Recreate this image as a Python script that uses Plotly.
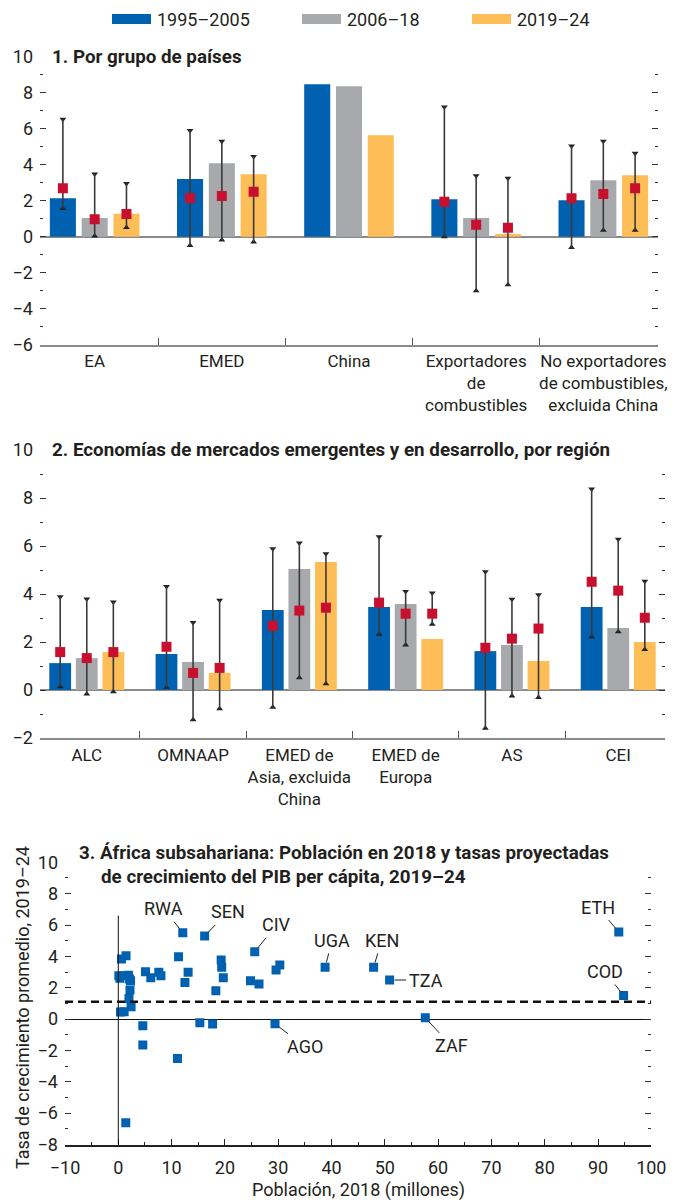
import plotly.graph_objects as go

# The page body adds an 8px margin; the figure is sized to fit the window after it.
OFF = 8
W, H = 679 - OFF, 1203 - OFF

# ---------------- data ----------------
series_names = ["1995–2005", "2006–18", "2019–24"]
series_colors = ["#0061B0", "#A7A9AC", "#FDBD57"]

groups1 = ["EA", "EMED", "China", "Exportadores<br>de<br>combustibles",
           "No exportadores<br>de combustibles,<br>excluida China"]
bars1_a = [2.14, 3.20, 8.46, 2.09, 2.03]
bars1_b = [1.04, 4.08, 8.35, 1.04, 3.14]
bars1_c = [1.28, 3.47, 5.63, 0.15, 3.42]
med1_a = [2.70, 2.15, None, 1.94, 2.14]
med1_b = [0.98, 2.27, None, 0.67, 2.38]
med1_c = [1.26, 2.50, None, 0.50, 2.70]
hi1_a = [6.52, 5.90, None, 7.20, 5.03]
hi1_b = [3.49, 5.30, None, 3.38, 5.30]
hi1_c = [2.95, 4.45, None, 3.25, 4.64]
lo1_a = [1.57, -0.48, None, 0.00, -0.59]
lo1_b = [0.04, -0.18, None, -2.99, 0.37]
lo1_c = [0.52, -0.29, None, -2.66, 0.37]

groups2 = ["ALC", "OMNAAP", "EMED de<br>Asia, excluida<br>China", "EMED de<br>Europa", "AS", "CEI"]
bars2_a = [1.12, 1.50, 3.33, 3.46, 1.62, 3.46]
bars2_b = [1.33, 1.17, 5.04, 3.58, 1.87, 2.58]
bars2_c = [1.58, 0.71, 5.33, 2.12, 1.21, 2.00]
med2_a = [1.58, 1.80, 2.67, 3.64, 1.76, 4.51]
med2_b = [1.33, 0.71, 3.31, 3.18, 2.14, 4.14]
med2_c = [1.58, 0.92, 3.43, 3.18, 2.56, 3.01]
hi2_a = [3.89, 4.31, 5.89, 6.39, 4.93, 8.37]
hi2_b = [3.79, 2.81, 6.12, 4.10, 3.78, 6.28]
hi2_c = [3.67, 3.74, 5.68, 4.04, 3.97, 4.53]
lo2_a = [0.14, 0.10, -0.72, 2.32, -1.59, 2.22]
lo2_b = [-0.17, -1.24, 0.51, 1.88, -0.25, 2.43]
lo2_c = [-0.07, -0.78, 0.26, 2.74, -0.31, 1.69]

# Panel 3: unlabeled countries
pop3 = [0.6, 1.45, 0.1, 1.0, 1.9, 2.3, 2.2, 2.0, 2.4, 1.1, 0.4, 5.1, 6.1, 7.6, 8.0,
        11.3, 13.1, 12.5, 18.3, 4.6, 4.6, 15.3, 17.7, 11.1, 1.4, 19.3, 19.4, 19.7,
        24.8, 26.4, 29.6, 30.3, 0.3, 2.1]
gr3 = [3.83, 4.04, 2.77, 2.77, 2.80, 2.45, 1.85, 1.32, 0.79, 0.47, 0.45, 3.02, 2.64, 2.98, 2.77,
       3.98, 2.98, 2.34, 1.81, -0.43, -1.66, -0.23, -0.32, -2.51, -6.62, 3.77, 3.30, 2.64,
       2.45, 2.23, 3.13, 3.45, 2.60, 2.55]
# Panel 3: labeled countries
lab_names = ["RWA", "SEN", "CIV", "UGA", "AGO", "KEN", "TZA", "ZAF", "ETH", "COD"]
lab_pop = [12.1, 16.2, 25.6, 38.8, 29.4, 47.9, 50.9, 57.6, 93.9, 94.8]
lab_gr = [5.51, 5.30, 4.30, 3.30, -0.30, 3.30, 2.49, 0.08, 5.55, 1.51]
lab_dx = [-19, 23, 22, 7, 30, 8, 36, 26, -21, -19]
lab_dy = [-24, -24, -27, -27, 23, -27, 0, 28, -25, -24]
ssa_avg = 1.1

# ---------------- helpers ----------------
FONT = "Roboto, Liberation Sans, sans-serif"
TXT = "#231F20"


def px(x):
    return (x - OFF) / W


def py(y):
    return 1 - (y - OFF) / H


fig = go.Figure()

offs = [-0.25, 0.0, 0.25]
BW = 0.205


def add_panel(xa, ya, bars, meds, his, los):
    for k in range(3):
        xs = [i + offs[k] for i in range(len(bars[k]))]
        fig.add_trace(go.Bar(x=xs, y=bars[k], width=BW, marker=dict(color=series_colors[k], line=dict(width=0)),
                             xaxis=xa, yaxis=ya, showlegend=False, hoverinfo="skip"))
    for k in range(3):
        xe, ye, up, dn, xt, yt, xb, yb = [], [], [], [], [], [], [], []
        for i in range(len(meds[k])):
            if meds[k][i] is None:
                continue
            x = i + offs[k]
            xe.append(x)
            ye.append(meds[k][i])
            up.append(his[k][i] - meds[k][i])
            dn.append(meds[k][i] - los[k][i])
            xt.append(x); yt.append(his[k][i])
            xb.append(x); yb.append(los[k][i])
        fig.add_trace(go.Scatter(x=xt, y=yt, mode="markers", marker=dict(symbol="triangle-down", size=6, color="#222"),
                                 xaxis=xa, yaxis=ya, showlegend=False, hoverinfo="skip"))
        fig.add_trace(go.Scatter(x=xb, y=yb, mode="markers", marker=dict(symbol="triangle-up", size=6, color="#222"),
                                 xaxis=xa, yaxis=ya, showlegend=False, hoverinfo="skip"))
        fig.add_trace(go.Scatter(x=xe, y=ye, mode="markers",
                                 marker=dict(symbol="square", size=10, color="#C8102E"),
                                 error_y=dict(type="data", symmetric=False, array=up, arrayminus=dn,
                                              width=0, thickness=1.6, color="#3a3a3a"),
                                 xaxis=xa, yaxis=ya, showlegend=False, hoverinfo="skip"))


add_panel("x", "y", [bars1_a, bars1_b, bars1_c], [med1_a, med1_b, med1_c],
          [hi1_a, hi1_b, hi1_c], [lo1_a, lo1_b, lo1_c])
add_panel("x2", "y2", [bars2_a, bars2_b, bars2_c], [med2_a, med2_b, med2_c],
          [hi2_a, hi2_b, hi2_c], [lo2_a, lo2_b, lo2_c])

# Panel 3 scatter
fig.add_trace(go.Scatter(x=pop3 + lab_pop, y=gr3 + lab_gr, mode="markers",
                         marker=dict(symbol="square", size=9, color="#0061B0"),
                         xaxis="x3", yaxis="y3", showlegend=False, hoverinfo="skip"))

tickfont = dict(family=FONT, size=18, color=TXT)


def yaxis_common(rng, dom):
    return dict(domain=dom, range=rng, dtick=2, tick0=0, ticks="inside", ticklen=6, tickwidth=1.2,
                tickcolor="#333", mirror="ticks", showline=False, showgrid=False, automargin=False,
                tickfont=tickfont, ticklabelstandoff=6,
                minor=dict(dtick=1, tick0=0, ticks="inside", ticklen=3, tickwidth=1, tickcolor="#333",
                           showgrid=False), fixedrange=True)


def xcat(ncat, rng, dom, labels, anchor, standoff):
    return dict(domain=dom, range=rng, tickmode="array", tickvals=list(range(ncat)), ticktext=labels,
                ticks="", showline=True, linecolor="#8a8a8a", linewidth=1.5, showgrid=False, tickangle=0,
                zeroline=False, tickfont=dict(family=FONT, size=17, color=TXT), anchor=anchor,
                automargin=False, ticklabelstandoff=standoff,
                minor=dict(tickmode="array", tickvals=[i + 0.5 for i in range(ncat - 1)], ticks="inside",
                           ticklen=7, tickwidth=1.2, tickcolor="#555", showgrid=False))


y1 = yaxis_common([-6, 10], [py(345), py(56.5)])
y1.update(zeroline=True, zerolinecolor="#8a8a8a", zerolinewidth=2, anchor="x")
y2 = yaxis_common([-2, 10], [py(738), py(450)])
y2.update(zeroline=True, zerolinecolor="#8a8a8a", zerolinewidth=2, anchor="x2")
y3 = yaxis_common([-8, 10], [py(1144.5), py(862.3)])
y3.update(zeroline=True, zerolinecolor="#111", zerolinewidth=1, anchor="x3")

x1 = xcat(5, [-0.43, 4.43], [px(40), px(658)], groups1, "y", 0)
x2 = xcat(6, [-0.44, 5.44], [px(40), px(665)], groups2, "y2", 1)
x3 = dict(domain=[px(65), px(651.3)], range=[-10, 100], dtick=10, tick0=0, ticks="inside", ticklen=6,
          tickwidth=1.2, tickcolor="#222", showline=True, linecolor="#222", linewidth=1.5, showgrid=False,
          zeroline=False, tickfont=tickfont, anchor="y3", automargin=False, ticklabelstandoff=6,
          minor=dict(dtick=5, tick0=0, ticks="inside", ticklen=3, tickwidth=1, tickcolor="#222", showgrid=False))

fig.update_layout(width=W, height=H, autosize=False, margin=dict(l=0, r=0, t=0, b=0, autoexpand=False),
                  paper_bgcolor="white", plot_bgcolor="white", showlegend=False,
                  xaxis=x1, yaxis=y1, xaxis2=x2, yaxis2=y2, xaxis3=x3, yaxis3=y3,
                  font=dict(family=FONT, color=TXT))

shapes = []
# manual legend
leg_x = [112, 302, 472]
for k in range(3):
    shapes.append(dict(type="rect", xref="paper", yref="paper", x0=px(leg_x[k]), x1=px(leg_x[k] + 39),
                       y0=py(24), y1=py(14), fillcolor=series_colors[k], line=dict(width=0)))
# panel 3 reference lines
shapes.append(dict(type="line", xref="x3", yref="y3", x0=0, x1=0, y0=-8, y1=6.6,
                   line=dict(color="#111", width=1)))
shapes.append(dict(type="line", xref="x3", yref="y3", x0=-10, x1=100, y0=ssa_avg, y1=ssa_avg,
                   line=dict(color="#111", width=2.5, dash="8px,5px")))

ann = []
for k in range(3):
    ann.append(dict(xref="paper", yref="paper", x=px(leg_x[k] + 43), y=py(19), text=series_names[k],
                    showarrow=False, xanchor="left", yanchor="middle",
                    font=dict(family=FONT, size=18, color=TXT)))

title_font = dict(family=FONT, size=18.8, color=TXT)
ann.append(dict(xref="paper", yref="paper", x=px(50), y=py(57), text="<b>1. Por grupo de países</b>",
                showarrow=False, xanchor="left", yanchor="middle", font=title_font))
ann.append(dict(xref="paper", yref="paper", x=px(50), y=py(450),
                text="<b>2. Economías de mercados emergentes y en desarrollo, por región</b>",
                showarrow=False, xanchor="left", yanchor="middle", font=title_font))
ann.append(dict(xref="paper", yref="paper", x=px(77), y=py(853),
                text="<b>3. África subsahariana: Población en 2018 y tasas proyectadas</b>",
                showarrow=False, xanchor="left", yanchor="middle", font=title_font))
ann.append(dict(xref="paper", yref="paper", x=px(99), y=py(877),
                text="<b>de crecimiento del PIB per cápita, 2019–24</b>",
                showarrow=False, xanchor="left", yanchor="middle", font=title_font))
# axis titles panel 3
ann.append(dict(xref="paper", yref="paper", x=px(22), y=py(1008), text="Tasa de crecimiento promedio, 2019–24",
                textangle=-90, showarrow=False, xanchor="center", yanchor="middle",
                font=dict(family=FONT, size=18, color=TXT)))
ann.append(dict(xref="paper", yref="paper", x=px(358), y=py(1190), text="Población, 2018 (millones)",
                showarrow=False, xanchor="center", yanchor="middle",
                font=dict(family=FONT, size=18, color=TXT)))
# country labels
for n, xv, yv, dx, dy in zip(lab_names, lab_pop, lab_gr, lab_dx, lab_dy):
    ann.append(dict(xref="x3", yref="y3", x=xv, y=yv, text=n, showarrow=True, arrowhead=0, arrowwidth=1,
                    arrowcolor="#222", ax=dx, ay=dy, standoff=5, borderpad=2,
                    font=dict(family=FONT, size=18, color=TXT)))

fig.update_layout(shapes=shapes, annotations=ann)
fig.write_html("out.html")
